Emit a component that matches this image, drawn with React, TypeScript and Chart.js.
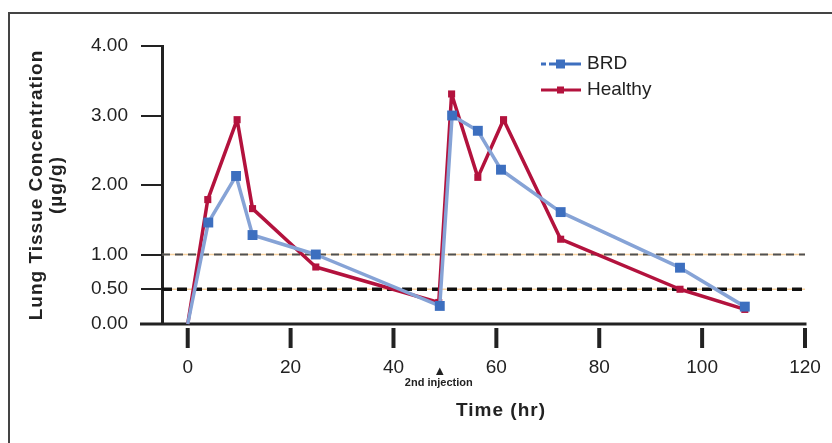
import React, { useEffect, useRef } from "react";
import { Chart, registerables } from "chart.js";

Chart.register(...registerables);

// ---- data ----
const seriesNames = ["BRD", "Healthy"];
const brdTime = [0, 4.0, 9.4, 12.6, 24.9, 49.0, 51.4, 56.4, 60.9, 72.5, 95.7, 108.3];
const brdConc = [0, 1.46, 2.13, 1.28, 1.0, 0.26, 3.0, 2.78, 2.22, 1.61, 0.81, 0.25];
const healthyTime = [0, 3.9, 9.6, 12.6, 24.9, 48.8, 51.3, 56.4, 61.4, 72.5, 95.7, 108.3];
const healthyConc = [0, 1.79, 2.94, 1.66, 0.82, 0.31, 3.31, 2.11, 2.94, 1.22, 0.5, 0.21];
const thresholdLevels = [1.0, 0.5];
const yTickValues = [0, 0.5, 1, 2, 3, 4];
const xTickValues = [0, 20, 40, 60, 80, 100, 120];
const xMin = -5;
const xMax = 120;
const injectionTime = 49;
const injectionLabel = "2nd injection";
const xTitle = "Time (hr)";
const yTitleLines = ["Lung Tissue Concentration", "(µg/g)"];

const FONT = "'Liberation Sans', Arial, Helvetica, sans-serif";
const INK = "#222";
const BLUE_LINE = "#86a3d6";
const BLUE_MARK = "#3d6fbf";
const RED = "#b3123d";

const decorPlugin = {
  id: "decor",
  beforeDraw(chart: any) {
    const ctx = chart.ctx;
    ctx.save();
    ctx.fillStyle = "#fff";
    ctx.fillRect(0, 0, chart.width, chart.height);
    ctx.strokeStyle = "#444";
    ctx.lineWidth = 2;
    ctx.beginPath();
    ctx.moveTo(9, chart.height);
    ctx.lineTo(9, 13);
    ctx.lineTo(chart.width, 13);
    ctx.stroke();
    ctx.restore();
  },
  beforeDatasetsDraw(chart: any) {
    const { ctx, scales } = chart;
    const x = scales.x;
    const y = scales.y;
    const y0 = y.getPixelForValue(0);
    ctx.save();
    ctx.strokeStyle = INK;
    ctx.lineWidth = 3;
    ctx.beginPath();
    ctx.moveTo(140, y0);
    ctx.lineTo(x.getPixelForValue(xMax) + 1.5, y0);
    ctx.stroke();
    ctx.restore();
  },
  afterDraw(chart: any) {
    const { ctx, scales } = chart;
    const x = scales.x;
    const y = scales.y;
    const y0 = y.getPixelForValue(0);
    ctx.save();
    // x tick marks (detached from the axis line)
    ctx.strokeStyle = INK;
    ctx.lineWidth = 4;
    xTickValues.forEach((v) => {
      const px = x.getPixelForValue(v);
      ctx.beginPath();
      ctx.moveTo(px, y0 + 4);
      ctx.lineTo(px, y0 + 24);
      ctx.stroke();
    });

    // injection annotation
    const ix = x.getPixelForValue(injectionTime);
    ctx.fillStyle = INK;
    ctx.beginPath();
    ctx.moveTo(ix, 367.5);
    ctx.lineTo(ix - 3.8, 375);
    ctx.lineTo(ix + 3.8, 375);
    ctx.closePath();
    ctx.fill();
    ctx.font = `bold 11px ${FONT}`;
    ctx.textAlign = "center";
    ctx.textBaseline = "middle";
    ctx.fillText(injectionLabel, ix - 1, 383);

    // axis titles
    (ctx as any).letterSpacing = "1px";
    ctx.font = `bold 19px ${FONT}`;
    ctx.fillStyle = INK;
    ctx.textAlign = "center";
    ctx.textBaseline = "middle";
    ctx.fillText(xTitle, 501, 411);
    ctx.save();
    ctx.translate(37, 185);
    ctx.rotate(-Math.PI / 2);
    ctx.fillText(yTitleLines[0], 0, 0);
    ctx.fillText(yTitleLines[1], 0, 20);
    ctx.restore();
    (ctx as any).letterSpacing = "0px";

    // legend
    const lx0 = 541;
    const lx1 = 581;
    const rows = [64, 90];
    ctx.strokeStyle = BLUE_MARK;
    ctx.lineWidth = 3;
    ctx.beginPath();
    ctx.moveTo(lx0, rows[0]);
    ctx.lineTo(lx0 + 5, rows[0]);
    ctx.moveTo(lx0 + 8, rows[0]);
    ctx.lineTo(lx1, rows[0]);
    ctx.stroke();
    ctx.fillStyle = BLUE_MARK;
    ctx.fillRect(556, rows[0] - 4.5, 9, 9);
    ctx.strokeStyle = RED;
    ctx.beginPath();
    ctx.moveTo(lx0, rows[1]);
    ctx.lineTo(lx1, rows[1]);
    ctx.stroke();
    ctx.fillStyle = RED;
    ctx.fillRect(557, rows[1] - 3.5, 7, 7);
    ctx.fillStyle = INK;
    ctx.font = `19px ${FONT}`;
    ctx.textAlign = "left";
    ctx.textBaseline = "middle";
    ctx.fillText(seriesNames[0], 587, rows[0]);
    ctx.fillText(seriesNames[1], 587, rows[1]);
    ctx.restore();
  },
};

export default function App() {
  const canvasRef = useRef<HTMLCanvasElement | null>(null);

  useEffect(() => {
    const canvas = canvasRef.current;
    if (!canvas) return;

    const thresholdSets: any[] = [];
    thresholdLevels.forEach((lvl, i) => {
      const pts = [
        { x: xMin, y: lvl },
        { x: xMax, y: lvl },
      ];
      thresholdSets.push({
        label: `thr-under-${i}`,
        data: pts,
        borderColor: "#f9d3a0",
        borderWidth: 1.5,
        pointRadius: 0,
        order: 4,
      });
      thresholdSets.push({
        label: `thr-${i}`,
        data: pts,
        borderColor: i === 0 ? "#505050" : "#111",
        borderWidth: i === 0 ? 2.2 : 3.5,
        borderDash: i === 0 ? [8, 5] : [10, 5],
        pointRadius: 0,
        order: 3,
      });
    });

    const chart = new Chart(canvas, {
      type: "line",
      data: {
        datasets: [
          {
            label: seriesNames[0],
            data: brdTime.map((t, i) => ({ x: t, y: brdConc[i] })),
            borderColor: BLUE_LINE,
            borderWidth: 3.5,
            borderJoinStyle: "round",
            pointStyle: "rect",
            pointRadius: (c: any) => (c.dataIndex === 0 ? 0 : 7),
            pointBackgroundColor: BLUE_MARK,
            pointBorderColor: BLUE_MARK,
            pointBorderWidth: 0,
            order: 0,
            clip: false,
          } as any,
          {
            label: seriesNames[1],
            data: healthyTime.map((t, i) => ({ x: t, y: healthyConc[i] })),
            borderColor: RED,
            borderWidth: 3.5,
            borderJoinStyle: "round",
            pointStyle: "rect",
            pointRadius: (c: any) => (c.dataIndex === 0 ? 0 : 5),
            pointBackgroundColor: RED,
            pointBorderColor: RED,
            pointBorderWidth: 0,
            order: 1,
            clip: false,
          } as any,
          ...thresholdSets,
        ],
      },
      plugins: [decorPlugin],
      options: {
        animation: false,
        responsive: false,
        events: [],
        layout: { padding: { top: 46, right: 27, left: 0, bottom: 0 } },
        plugins: {
          legend: { display: false },
          tooltip: { enabled: false },
        },
        scales: {
          x: {
            type: "linear",
            min: xMin,
            max: xMax,
            afterBuildTicks: (scale: any) => {
              scale.ticks = xTickValues.map((v) => ({ value: v }));
            },
            afterFit: (scale: any) => {
              scale.height = 119;
              scale.paddingLeft = 0;
              scale.paddingRight = 0;
            },
            grid: { display: false },
            border: { display: false },
            ticks: {
              color: INK,
              padding: 24,
              maxRotation: 0,
              autoSkip: false,
              font: { family: FONT, size: 19 },
              callback: (v: any) => String(v),
            },
          },
          y: {
            type: "linear",
            min: 0,
            max: 4,
            afterBuildTicks: (scale: any) => {
              scale.ticks = yTickValues.map((v) => ({ value: v }));
            },
            afterFit: (scale: any) => {
              scale.width = 162;
              scale.paddingTop = 0;
              scale.paddingBottom = 0;
            },
            grid: {
              drawOnChartArea: false,
              drawTicks: true,
              tickLength: 21,
              color: INK,
              lineWidth: 2,
            },
            border: { display: true, color: INK, width: 3 },
            ticks: {
              color: INK,
              padding: 13,
              autoSkip: false,
              font: { family: FONT, size: 19 },
              callback: (v: any) => Number(v).toFixed(2),
            },
          },
        },
      } as any,
    });

    return () => chart.destroy();
  }, []);

  return (
    <div style={{ position: "fixed", left: 0, top: 0, width: 832, height: 443, background: "#fff" }}>
      <canvas ref={canvasRef} width={832} height={443} style={{ width: 832, height: 443, display: "block" }} />
    </div>
  );
}
